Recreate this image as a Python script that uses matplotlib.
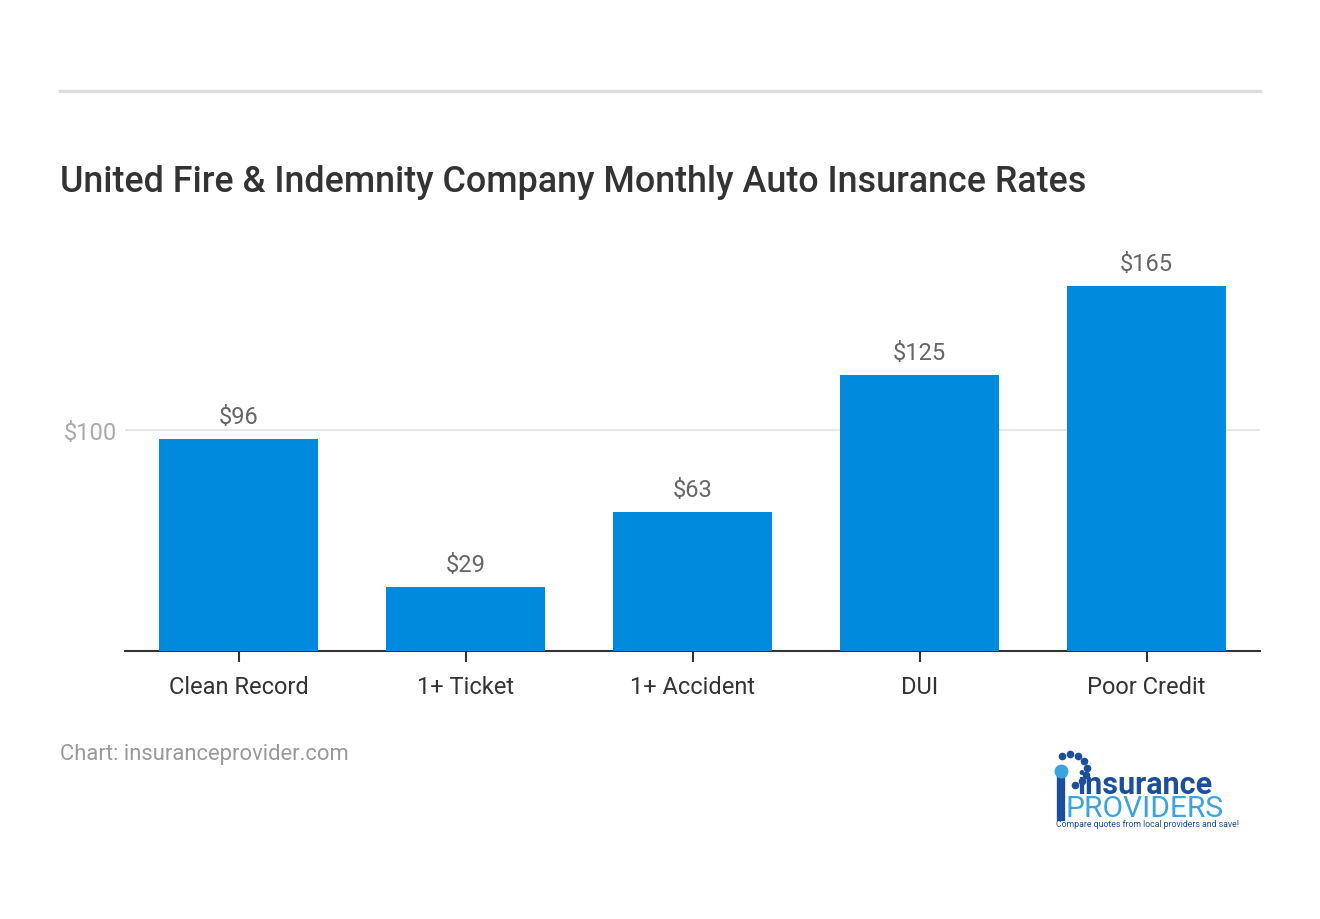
import numpy as np
import matplotlib.pyplot as plt
from matplotlib.lines import Line2D

plt.rcParams['font.family'] = ['Roboto', 'DejaVu Sans']

categories = ['Clean Record', '1+ Ticket', '1+ Accident', 'DUI', 'Poor Credit']
rates = [96, 29, 63, 125, 165]
y_ticks = [100]
y_tick_labels = ['$100']

W, H = 1320, 920
fig = plt.figure(figsize=(W / 100, H / 100), dpi=100)
fig.patch.set_facecolor('white')

# axes placed in pixel units
left, right, bottom, top = 125, 1260, 652, 240
ax = fig.add_axes([left / W, 1 - bottom / H, (right - left) / W, (bottom - top) / H])

x = np.arange(len(categories))
ax.bar(x, rates, width=0.70, color='#008ADE', zorder=3)
for xi, v in zip(x, rates):
    ax.text(xi, v + 5, f'${v}', ha='center', va='bottom', fontsize=17, color='#666666')

ax.set_xlim(-0.5, len(categories) - 0.5)
ax.set_ylim(0, (bottom - top) / 2.21)
ax.set_yticks(y_ticks)
ax.set_yticklabels(y_tick_labels, fontsize=17, color='#AAAAAA')
ax.yaxis.grid(True, color='#E2E2E2', linewidth=1.2, zorder=0)
ax.tick_params(axis='y', length=0, pad=6)
ax.set_xticks(x)
ax.set_xticklabels(categories, fontsize=17, color='#333333')
ax.tick_params(axis='x', length=8, width=1.5, color='#333333', pad=9)
for s in ['top', 'right', 'left']:
    ax.spines[s].set_visible(False)
ax.spines['bottom'].set_color('#333333')
ax.spines['bottom'].set_linewidth(1.5)

# header rule and title
fig.add_artist(Line2D([60 / W, 1260 / W], [1 - 92 / H] * 2, color='#DDDDDD', linewidth=2.5))
fig.text(60 / W, 1 - 182 / H, 'United Fire & Indemnity Company Monthly Auto Insurance Rates',
         fontsize=25.8, fontweight='medium', color='#333333', va='center', ha='left')

# footer
fig.text(60 / W, 1 - 755 / H, 'Chart: insuranceprovider.com', fontsize=15.8,
         color='#999999', va='center', ha='left')

# rough logo
fig.text(1077 / W, 1 - 794 / H, 'insurance', fontsize=22, fontweight='bold',
         color='#1B4F9C', va='baseline', ha='left')
fig.text(1066 / W, 1 - 817 / H, 'PROVIDERS', fontsize=21.5, color='#3BA3DD',
         va='baseline', ha='left')
fig.text(1056 / W, 1 - 825 / H, 'Compare quotes from local providers and save!', fontsize=6.3,
         color='#1B4F9C', va='center', ha='left')
fig.add_artist(Line2D([1061 / W, 1061 / W], [1 - 781 / H, 1 - 818 / H], color='#1B4F9C', linewidth=6))
dots_x = [1062, 1070, 1078, 1084, 1087, 1086, 1082, 1075]
dots_y = [757, 755, 757, 762, 769, 776, 782, 786]
fig.add_artist(Line2D([d / W for d in dots_x], [1 - d / H for d in dots_y], linestyle='none',
                      marker='o', markersize=4.5, color='#1B4F9C'))
fig.add_artist(Line2D([1061 / W], [1 - 772 / H], linestyle='none', marker='o', markersize=9,
                      color='#3BA3DD'))

plt.savefig('out.png', dpi=100)
